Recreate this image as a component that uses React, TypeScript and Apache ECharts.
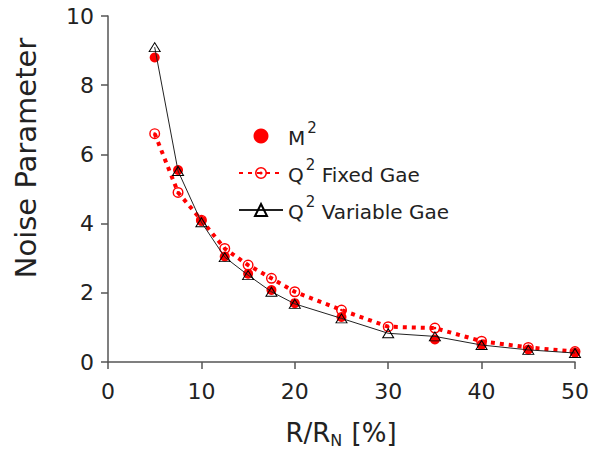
import React, { useEffect, useRef } from 'react';
import * as echarts from 'echarts';

const xValues = [5, 7.5, 10, 12.5, 15, 17.5, 20, 25, 30, 35, 40, 45, 50];
const m2X = [5, 7.5, 10, 12.5, 15, 17.5, 20, 25, 35, 40, 45, 50];
const m2Values = [8.8, 5.55, 4.08, 3.05, 2.55, 2.08, 1.7, 1.3, 0.65, 0.5, 0.36, 0.27];
const q2FixedValues = [6.6, 4.9, 4.1, 3.28, 2.8, 2.42, 2.03, 1.5, 1.02, 0.98, 0.6, 0.42, 0.3];
const q2VariableValues = [9.1, 5.52, 4.04, 3.03, 2.51, 2.03, 1.68, 1.26, 0.83, 0.74, 0.49, 0.35, 0.26];
const seriesNames = ['M2', 'Q2 Fixed Gae', 'Q2 Variable Gae'];
const legendLabels: Record<string, string> = {
  'M2': '{t|M}{s|2}',
  'Q2 Fixed Gae': '{t|Q}{s|2}{t| Fixed Gae}',
  'Q2 Variable Gae': '{t|Q}{s|2}{t| Variable Gae}',
};
const xTitle = 'R/R{sub|N} [%]';
const yTitle = 'Noise Parameter';

const FONT = 'DejaVu Sans';
const ringDot =
  'path://M0,-10A10,10 0 1,1 0,10A10,10 0 1,1 0,-10Z M0,-7.4A7.4,7.4 0 1,0 0,7.4A7.4,7.4 0 1,0 0,-7.4Z M0,-2.6A2.6,2.6 0 1,1 0,2.6A2.6,2.6 0 1,1 0,-2.6Z';

export default function App() {
  const ref = useRef<HTMLDivElement>(null);
  useEffect(() => {
    document.body.style.margin = '0';
    const chart = echarts.init(ref.current!, undefined, { renderer: 'svg' });
    const axisLine = { show: true, lineStyle: { color: '#555', width: 1.5 } };
    chart.setOption({
      animation: false,
      backgroundColor: '#fff',
      textStyle: { fontFamily: FONT },
      grid: { left: 108, right: 25, top: 16, bottom: 90, containLabel: false },
      xAxis: {
        type: 'value', min: 0, max: 50, interval: 10,
        axisLine, axisTick: { show: true, length: 7, lineStyle: { color: '#555', width: 1.5 } },
        axisLabel: { fontSize: 22, color: '#222', margin: 18, fontFamily: FONT },
        splitLine: { show: false },
      },
      yAxis: {
        type: 'value', min: 0, max: 10, interval: 2,
        axisLine, axisTick: { show: true, length: 7, lineStyle: { color: '#555', width: 1.5 } },
        axisLabel: { fontSize: 22, color: '#222', margin: 14, fontFamily: FONT },
        splitLine: { show: false },
      },
      legend: {
        orient: 'vertical', left: 233, top: 115, itemWidth: 44, itemHeight: 15, itemGap: 9,
        data: seriesNames,
        formatter: (name: string) => legendLabels[name],
        textStyle: {
          color: '#222', fontFamily: FONT,
          rich: {
            t: { fontSize: 20, color: '#222', fontFamily: FONT, verticalAlign: 'bottom', lineHeight: 24 },
            s: { fontSize: 15, color: '#222', fontFamily: FONT, verticalAlign: 'bottom', lineHeight: 15, padding: [0, 0, 13, 2] },
          },
        },
      },
      graphic: [
        {
          type: 'text', x: 341, y: 433,
          style: {
            text: xTitle, fill: '#222', font: `26px "${FONT}"`, align: 'center', verticalAlign: 'middle',
            rich: {
              sub: { fontSize: 16, fill: '#222', fontFamily: FONT, verticalAlign: 'top', padding: [14, 1, 0, 0] },
            },
          },
        },
        {
          type: 'text', x: 26, y: 158, rotation: Math.PI / 2,
          style: { text: yTitle, fill: '#222', font: `29px "${FONT}"`, align: 'center', verticalAlign: 'middle' },
        },
      ],
      series: [
        {
          name: seriesNames[1], type: 'line',
          data: xValues.map((x, i) => [x, q2FixedValues[i]]),
          symbol: ringDot, symbolSize: 11,
          itemStyle: { color: '#ff0000', borderWidth: 0 },
          lineStyle: { color: '#ff0000', width: 4, type: [4, 5] },
          z: 2,
        },
        {
          name: seriesNames[0], type: 'scatter',
          data: m2X.map((x, i) => [x, m2Values[i]]),
          symbol: 'circle', symbolSize: 10,
          itemStyle: { color: '#ff0000', opacity: 1 },
          z: 3,
        },
        {
          name: seriesNames[2], type: 'line',
          data: xValues.map((x, i) => [x, q2VariableValues[i]]),
          symbol: 'triangle', symbolSize: [11, 9], showAllSymbol: true,
          itemStyle: { color: 'rgba(0,0,0,0)', borderColor: '#000', borderWidth: 1 },
          lineStyle: { color: '#222', width: 1 },
          z: 4,
        },
      ],
    });
    return () => chart.dispose();
  }, []);
  return <div ref={ref} style={{ position: 'absolute', left: 0, top: 0, width: 600, height: 452 }} />;
}
